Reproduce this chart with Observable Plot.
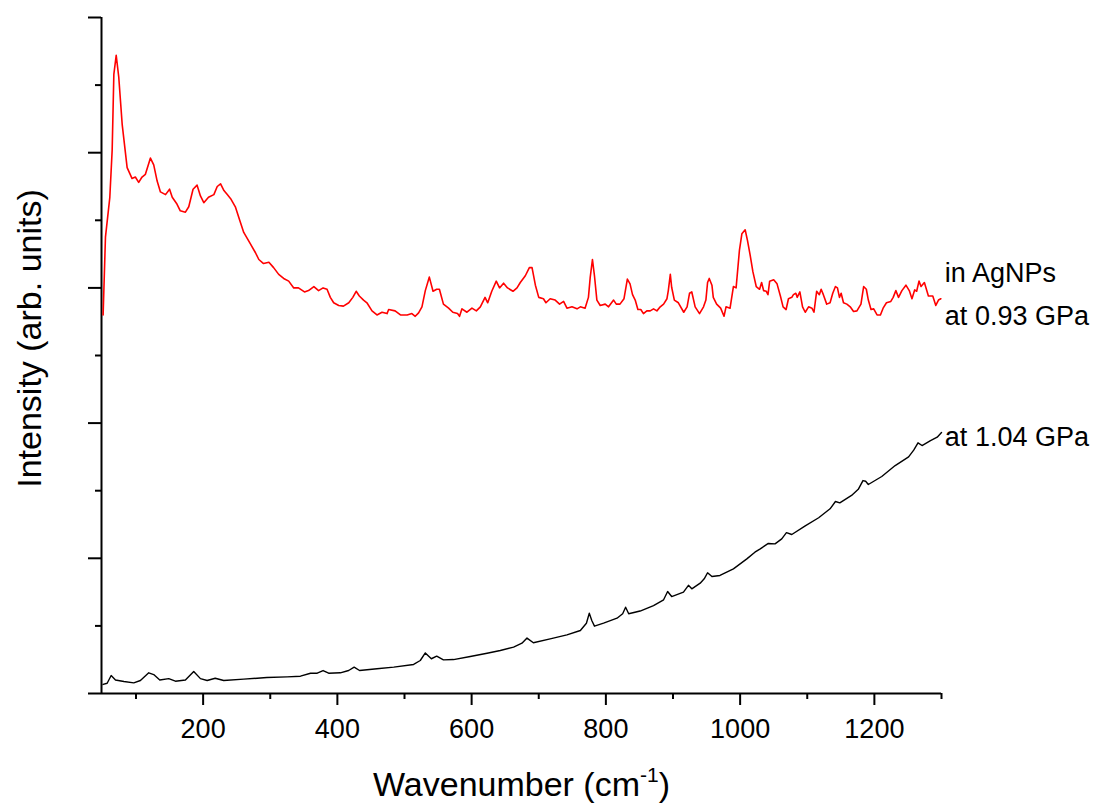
<!DOCTYPE html>
<html><head><meta charset="utf-8">
<script src="https://cdn.jsdelivr.net/npm/d3@7"></script>
<script src="https://cdn.jsdelivr.net/npm/@observablehq/plot@0.6"></script>
<style>body{margin:0;background:#fff;} svg{display:block}</style>
</head><body><div id="chart"></div>
<script>
// Red spectrum: in AgNPs at 0.93 GPa
const redX = [51,54.5,61,64.5,67,70.5,74.3,79.4,86.8,94,99,104,109,114,121.5,126.4,131.5,136.4,144,150,154,161,166,173.6,178.6,185,191,196,201,208,216,221,226,231,236,241,248,254.5,260.5,270,278,283,290,298,305,312.6,320,327.5,335,342,351,357,365,372,378.7,384.6,389.5,394.5,402,409,417,423,428,432.7,439,444,451.6,459,466.5,474,476.4,486,494,504,511,516,521,526,531,537,542.5,548,552,558,565.7,572,579,582,585.6,593,600.5,607,613,620,624,630,636.7,641.6,647.6,653.5,661.6,667.6,672.5,680,686,690,695,700,707,710.7,717,724.5,731,737,742,749.5,757,762,769,774,776.7,780,783,786.6,791.6,799,804,811.5,815.5,821,827,832,836,839.7,843.7,847.7,852,856,861,866,871,876,881,886,891,893,896,898,902,908,916,921,924.6,928,933,939.5,945.5,949,951.5,954,958,960,965,971,976,979,985,990,994,999,1002.6,1007.5,1011,1015,1019,1024,1029,1032,1035,1039,1041.5,1044,1050,1055,1060,1064,1068.5,1072,1077,1079.4,1083,1085,1089,1093,1097,1102,1107,1110,1114,1118,1120.7,1124,1129,1134,1138,1142,1145,1148,1150.5,1154,1159,1164,1169,1174,1180,1184,1188,1191,1195,1199,1204,1209,1213,1218,1224.5,1228,1232,1236,1241,1247,1252,1256,1260,1263,1266.5,1269.5,1274.5,1280.5,1287,1291.5,1295.5,1299];
const redY = [2.80,3.375,3.67,4.02,4.58,4.72,4.56,4.21,3.89,3.81,3.82,3.78,3.82,3.84,3.96,3.91,3.79,3.71,3.69,3.73,3.67,3.62,3.57,3.56,3.60,3.73,3.76,3.68,3.63,3.67,3.69,3.75,3.77,3.72,3.69,3.66,3.60,3.50,3.41,3.33,3.26,3.21,3.18,3.19,3.15,3.10,3.07,3.05,3.00,3.00,2.97,2.98,3.01,2.98,3.00,2.99,2.93,2.89,2.87,2.865,2.89,2.93,2.975,2.94,2.91,2.89,2.83,2.80,2.82,2.81,2.84,2.83,2.80,2.80,2.81,2.79,2.815,2.86,2.98,3.08,2.975,2.99,2.99,2.88,2.85,2.82,2.81,2.79,2.845,2.82,2.85,2.83,2.86,2.93,2.89,2.975,3.05,3.00,3.035,3.00,2.975,3.00,3.04,3.09,3.15,3.15,3.02,2.93,2.92,2.89,2.92,2.91,2.88,2.90,2.85,2.86,2.845,2.86,2.85,2.93,3.08,3.21,3.09,2.91,2.87,2.88,2.86,2.91,2.88,2.88,2.92,3.065,3.03,2.95,2.91,2.84,2.84,2.81,2.83,2.83,2.845,2.83,2.86,2.88,2.92,2.98,3.10,3.005,2.91,2.89,2.82,2.86,2.96,2.97,2.86,2.81,2.86,2.91,3.04,3.07,3.02,2.93,2.88,2.85,2.79,2.86,2.85,3.01,3.00,3.28,3.40,3.43,3.35,3.24,3.12,3.01,2.99,3.04,2.98,2.975,2.95,3.05,3.06,3.03,2.94,2.86,2.84,2.92,2.93,2.95,2.96,2.93,2.97,2.86,2.82,2.86,2.85,2.82,2.975,2.95,2.99,2.95,2.88,2.89,2.96,3.01,3.00,2.93,2.96,2.89,2.88,2.86,2.825,2.83,2.88,3.01,2.99,2.91,2.84,2.845,2.80,2.80,2.85,2.89,2.90,2.93,2.98,2.93,2.98,3.02,2.98,2.92,2.985,2.975,3.05,3.01,3.04,2.94,2.94,2.87,2.91,2.92];

// Black spectrum: at 1.04 GPa
const blackX = [51,57,63,69.4,82,96.7,106.6,119,126.4,135.4,148.8,158.7,173.6,186,196,206,218,230.7,260.5,295,325,345,360,370,378.7,387,404.4,416.8,425,433,459,484,513.6,523.5,531,540,548,558,573,598,623,642.7,662.5,675,682.5,692,717,742,762,771,775.3,779,783,796.6,816.6,825,829.4,834,851,871,886,892,898,915.6,923,928,940.5,946.5,951.5,958,970,990,1010,1022,1030,1042,1052,1062,1069,1077,1097,1117,1134,1142,1148.5,1166,1176,1183,1187,1191,1211,1231,1251,1258.6,1265,1271,1283.6,1293.6,1300];
const blackY = [0.067,0.076,0.133,0.10,0.089,0.079,0.096,0.153,0.14,0.10,0.11,0.091,0.10,0.163,0.11,0.096,0.113,0.096,0.106,0.118,0.123,0.128,0.15,0.15,0.17,0.15,0.153,0.17,0.195,0.17,0.183,0.195,0.215,0.244,0.30,0.257,0.276,0.249,0.251,0.274,0.298,0.318,0.343,0.372,0.41,0.375,0.404,0.434,0.466,0.52,0.594,0.54,0.498,0.52,0.557,0.59,0.638,0.59,0.61,0.65,0.693,0.754,0.717,0.75,0.80,0.774,0.816,0.848,0.893,0.865,0.873,0.922,0.996,1.045,1.07,1.11,1.107,1.144,1.19,1.176,1.24,1.30,1.366,1.42,1.41,1.465,1.51,1.575,1.57,1.546,1.605,1.686,1.75,1.80,1.854,1.834,1.87,1.896,1.93];

const xMajorTicks = [200,400,600,800,1000,1200];
const xMinorTicks = [100,300,500,700,900,1100,1300];
const yMajorTicks = [0,1,2,3,4,5];
const yMinorTicks = [0.5,1.5,2.5,3.5,4.5];
const xDomain = [48.6,1300];
const yDomain = [0,5];

const labelText = ["in AgNPs","at 0.93 GPa","at 1.04 GPa"];
const labelX = [1305,1305,1305];
const labelY = [3.04,2.722,1.834];

const red = redX.map((x,i)=>({x, y:redY[i]}));
const black = blackX.map((x,i)=>({x, y:blackY[i]}));
const labels = labelText.map((t,i)=>({text:t, x:labelX[i], y:labelY[i]}));

const font = "'Liberation Sans', Arial, Helvetica, sans-serif";

const svg = Plot.plot({
  width:1102, height:803,
  marginLeft:101, marginRight:161, marginTop:17, marginBottom:110,
  style:{fontFamily:font, background:"white", color:"black", overflow:"visible"},
  x:{domain:xDomain}, y:{domain:yDomain},
  marks:[
    Plot.axisX({ticks:xMajorTicks, tickSize:12, tickPadding:13, fontSize:27, strokeWidth:2, label:null, tickFormat:d=>String(d)}),
    Plot.axisX({ticks:xMinorTicks, tickSize:6, strokeWidth:2, label:null, tickFormat:()=>""}),
    Plot.axisY({ticks:yMajorTicks, tickSize:13, strokeWidth:2, label:null, tickFormat:()=>""}),
    Plot.axisY({ticks:yMinorTicks, tickSize:6, strokeWidth:2, label:null, tickFormat:()=>""}),
    Plot.ruleY([yDomain[0]], {stroke:"black", strokeWidth:2}),
    Plot.ruleX([xDomain[0]], {stroke:"black", strokeWidth:2}),
    Plot.line(black, {x:"x", y:"y", stroke:"black", strokeWidth:1.4}),
    Plot.line(red, {x:"x", y:"y", stroke:"#ff0000", strokeWidth:1.6}),
    Plot.text(labels, {x:"x", y:"y", text:"text", textAnchor:"start", lineAnchor:"bottom", fontSize:27, fill:"black"}),
    Plot.text(["Intensity (arb. units)"], {text:d=>d, frameAnchor:"left", rotate:-90, dx:-61, dy:-17, lineAnchor:"bottom", textAnchor:"middle", fontSize:34, fill:"black"}),
    Plot.text(["Wavenumber (cm-1)"], {text:d=>d, frameAnchor:"bottom", lineAnchor:"bottom", dy:102, fontSize:34, fill:"black"})
  ]
});

d3.select(svg).selectAll("text").filter(function(){return this.textContent === "Wavenumber (cm-1)";}).each(function(){
  const t = d3.select(this);
  t.text("Wavenumber (cm");
  t.append("tspan").attr("dy","-14").attr("font-size","21").text("-1");
  t.append("tspan").attr("dy","14").attr("font-size","34").text(")");
});

document.getElementById("chart").appendChild(svg);
</script>
</body></html>
